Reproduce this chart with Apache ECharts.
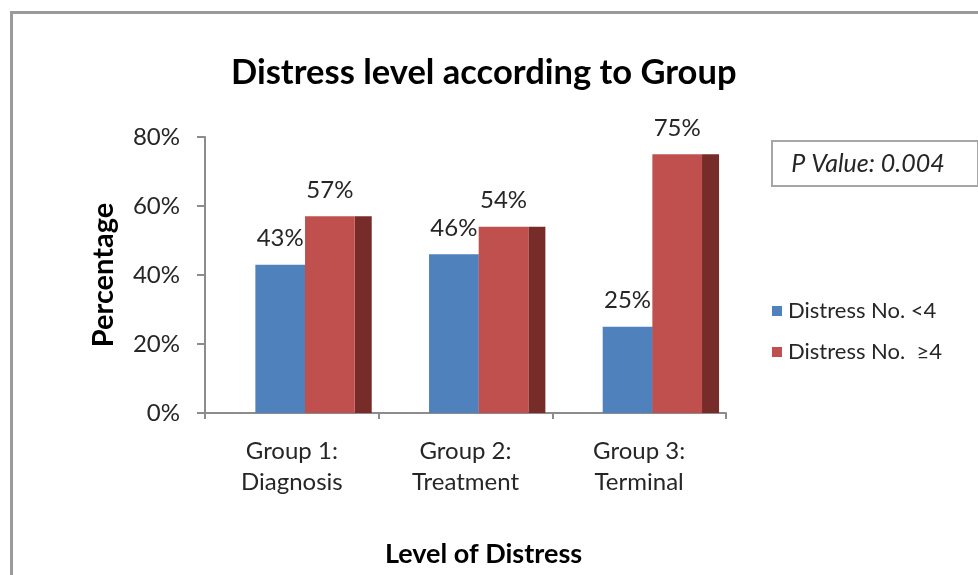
<!DOCTYPE html>
<html>
<head>
<meta charset="utf-8">
<script src="https://cdn.jsdelivr.net/npm/echarts@6/dist/echarts.min.js"></script>
<style>
  html, body { margin: 0; padding: 0; background: #fff; }
  #myChart { width: 978px; height: 575px; }
</style>
</head>
<body>
<div id="myChart"></div>
<script>
// data
var groups = ['Group 1:\nDiagnosis', 'Group 2:\nTreatment', 'Group 3:\nTerminal'];
var lowDistress = [0.43, 0.46, 0.25];   // Distress No. <4
var highDistress = [0.57, 0.54, 0.75];  // Distress No. ≥4
var seriesNames = ['Distress No. <4', 'Distress No.  \u22654'];
var yTicks = [0, 0.2, 0.4, 0.6, 0.8];

var FONT = 'Lato, "Open Sans", sans-serif';
var colors = ['#4F81BD', '#C0504D'];
var sideColors = ['#385D8A', '#772C2A'];

// front face + dark side face, like excel's 3d column
function makeRender(k) {
  return function (params, api) {
    var cat = api.value(0);
    var v = api.value(1);
    var base = api.coord([cat, 0]);
    var top = api.coord([cat, v]);
    var cw = api.size([1, 0])[0];
    var fw = cw * 0.286;
    var sw = cw * 0.098;
    var x0 = base[0] - cw * 0.21 + k * fw;
    var h = base[1] - top[1];
    return {
      type: 'group',
      children: [
        { type: 'rect', shape: { x: x0 + fw, y: top[1], width: sw, height: h }, style: { fill: sideColors[k] } },
        { type: 'rect', shape: { x: x0, y: top[1], width: fw, height: h }, style: { fill: colors[k] } },
        { type: 'text', style: {
            text: Math.round(v * 100) + '%',
            x: x0 + fw / 2, y: top[1] - 26,
            align: 'center', verticalAlign: 'middle',
            font: '24px ' + FONT, fill: '#262626' } }
      ]
    };
  };
}

function toData(arr) {
  return arr.map(function (v, i) { return [i, v]; });
}

var myChart = echarts.init(document.getElementById('myChart'));
myChart.setOption({
  animation: false,
  backgroundColor: '#fff',
  title: {
    text: 'Distress level according to Group',
    left: 226,
    top: 50,
    textStyle: { fontFamily: FONT, fontWeight: 'bold', fontSize: 34.5, color: '#000' }
  },
  legend: {
    orient: 'vertical',
    left: 767,
    top: 295,
    itemWidth: 10,
    itemHeight: 10,
    itemGap: 19,
    icon: 'rect',
    data: seriesNames,
    textStyle: { fontFamily: FONT, fontSize: 22, color: '#262626', padding: [0, 0, 0, 1] }
  },
  grid: { left: 205, right: 252, top: 137, bottom: 162, containLabel: false },
  xAxis: {
    type: 'category',
    data: groups,
    name: 'Level of Distress',
    nameLocation: 'middle',
    nameGap: 128,
    nameTextStyle: { fontFamily: FONT, fontWeight: 'bold', fontSize: 27, color: '#000', padding: [0, 0, 0, 36] },
    axisLine: { lineStyle: { color: '#8c8c8c', width: 2 } },
    axisTick: { show: true, interval: 0, length: 6, lineStyle: { color: '#8c8c8c', width: 2 } },
    axisLabel: { interval: 0, margin: 23, fontFamily: FONT, fontSize: 24, lineHeight: 31, color: '#262626' }
  },
  yAxis: {
    type: 'value',
    min: 0,
    max: yTicks[yTicks.length - 1],
    interval: 0.2,
    name: 'Percentage',
    nameLocation: 'middle',
    nameGap: 87,
    nameTextStyle: { fontFamily: FONT, fontWeight: 'bold', fontSize: 29, color: '#000' },
    axisLine: { show: true, lineStyle: { color: '#8c8c8c', width: 2 } },
    axisTick: { show: true, length: 8, lineStyle: { color: '#8c8c8c', width: 2 } },
    splitLine: { show: false },
    axisLabel: {
      margin: 25, fontFamily: FONT, fontSize: 24, color: '#262626',
      formatter: function (v) { return Math.round(v * 100) + '%'; }
    }
  },
  graphic: [
    { type: 'rect', left: 9, top: 10, z: -1, shape: { width: 1000, height: 600 },
      style: { fill: 'none', stroke: '#9a9a9a', lineWidth: 3 } },
    { type: 'rect', left: 771, top: 140, shape: { width: 206, height: 45 },
      style: { fill: '#fff', stroke: '#a6a6a6', lineWidth: 2 } },
    { type: 'text', x: 868, y: 164,
      style: { text: 'P Value: 0.004', align: 'center', verticalAlign: 'middle',
        font: 'italic 25px ' + FONT, fill: '#262626' } }
  ],
  series: [
    { name: seriesNames[0], type: 'custom', renderItem: makeRender(0), itemStyle: { color: colors[0] },
      encode: { x: 0, y: 1 }, data: toData(lowDistress) },
    { name: seriesNames[1], type: 'custom', renderItem: makeRender(1), itemStyle: { color: colors[1] },
      encode: { x: 0, y: 1 }, data: toData(highDistress) }
  ]
});
</script>
</body>
</html>
